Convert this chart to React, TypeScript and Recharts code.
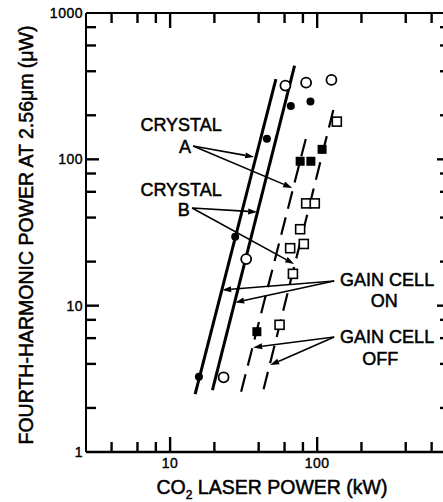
import {
  ComposedChart,
  XAxis,
  YAxis,
  Line,
  Scatter,
  ReferenceLine,
  ReferenceDot,
  Label,
} from "recharts";

const FONT = '"Liberation Sans", Arial, Helvetica, sans-serif';

// log axis ticks
const xTicks = [4, 6, 8, 10, 20, 40, 60, 80, 100, 200, 400, 600, 800];
const xLabeled = [10, 100];
const yTicks = [2, 4, 6, 8, 10, 20, 40, 60, 80, 100, 200, 400, 600, 800];
const yLabeled = [1, 10, 100, 1000];

// measured points: CO2 laser power (kW) -> fourth-harmonic power (uW)
const aOnX = [15.7, 27.7, 45.5, 66.2, 90];
const aOnY = [3.27, 29.6, 138, 231, 248];
const bOnX = [23.1, 32.9, 60.8, 84.1, 125];
const bOnY = [3.24, 20.8, 319, 334, 349];
const aOffX = [38.9, 76.6, 90.6, 108];
const aOffY = [6.64, 97, 97, 117];
const bOffX = [55.5, 68.4, 65.5, 81.1, 76.6, 84.2, 96.3, 136];
const bOffY = [7.4, 16.5, 24.7, 26.4, 33.3, 50, 50, 181];

// fitted lines (end points)
const fitAOnX = [14.8, 52.4];
const fitAOnY = [2.49, 353];
const fitBOnX = [19.4, 70.2];
const fitBOnY = [2.65, 437];
const fitAOffX = [30.4, 83.8];
const fitAOffY = [2.58, 139];
const fitBOffX = [43.2, 132.5];
const fitBOffY = [2.68, 244];

// annotations
const labelText = ["CRYSTAL", "A", "CRYSTAL", "B", "GAIN  CELL", "ON", "GAIN  CELL", "OFF"];
const labelX = [11.88, 12.65, 11.88, 12.36, 299, 285.6, 299, 268.3];
const labelY = [173.2, 121.6, 61.8, 45.1, 14.99, 10.77, 6.16, 4.36];

const arrowFromX = [14.34, 14.34, 14.11, 14.11, 130.5, 130.5, 130.5, 130.5];
const arrowFromY = [123.5, 123.5, 46.5, 46.5, 14.75, 14.75, 6.11, 6.11];
const arrowToX = [37.27, 67.6, 39.07, 69.7, 22.58, 27.69, 36.7, 47.9];
const arrowToY = [103.8, 63.8, 43.7, 19.28, 12.8, 10.52, 5.18, 3.93];

const pts = (xs: number[], ys: number[]) => xs.map((x, i) => ({ x, y: ys[i] }));

// axis labels only; tick marks are drawn by the reference lines below
const XLabelTick = (props: any) => {
  const { x, y, payload } = props;
  if (!xLabeled.includes(payload.value)) return <g />;
  return (
    <text
      x={x}
      y={y + 16}
      textAnchor="middle"
      fontSize={14}
      fontFamily={FONT}
      fill="#000"
      stroke="#000"
      strokeWidth={0.4}
      letterSpacing={0.5}
    >
      {payload.value}
    </text>
  );
};

const YLabelTick = (props: any) => {
  const { x, y, payload } = props;
  if (!yLabeled.includes(payload.value)) return <g />;
  return (
    <text
      x={x - 3}
      y={y + 5}
      textAnchor="end"
      fontSize={14}
      fontFamily={FONT}
      fill="#000"
      stroke="#000"
      strokeWidth={0.4}
      letterSpacing={0.5}
    >
      {payload.value}
    </text>
  );
};

// inward tick marks at both ends of a full-height / full-width reference line
const tickShape = (major: boolean, vertical: boolean) => (props: any) => {
  const { x1, y1, x2, y2 } = props;
  const len = major ? (vertical ? 15 : 13) : 10;
  if (vertical) {
    const top = Math.min(y1, y2);
    const bot = Math.max(y1, y2);
    return (
      <g>
        <line x1={x1} y1={bot} x2={x1} y2={bot - len} stroke="#000" strokeWidth={2.4} />
        <line x1={x1} y1={top} x2={x1} y2={top + len} stroke="#000" strokeWidth={2.4} />
      </g>
    );
  }
  const l = Math.min(x1, x2);
  const r = Math.max(x1, x2);
  return (
    <g>
      <line x1={l} y1={y1} x2={l + len} y2={y1} stroke="#000" strokeWidth={2.4} />
      <line x1={r} y1={y1} x2={r - len} y2={y1} stroke="#000" strokeWidth={2.4} />
    </g>
  );
};

const Arrow = (props: any) => {
  const { x1, y1, x2, y2 } = props;
  const a = Math.atan2(y2 - y1, x2 - x1);
  const L = 9;
  const W = 3;
  const bx = x2 - L * Math.cos(a);
  const by = y2 - L * Math.sin(a);
  const p1 = `${bx - W * Math.sin(a)},${by + W * Math.cos(a)}`;
  const p2 = `${bx + W * Math.sin(a)},${by - W * Math.cos(a)}`;
  return (
    <g>
      <line x1={x1} y1={y1} x2={bx} y2={by} stroke="#000" strokeWidth={1.6} />
      <polygon points={`${x2},${y2} ${p1} ${p2}`} fill="#000" />
    </g>
  );
};

const FilledCircle = (p: any) => <circle cx={p.cx} cy={p.cy} r={4} fill="#000" />;
const OpenCircle = (p: any) => (
  <circle cx={p.cx} cy={p.cy} r={5} fill="#fff" stroke="#000" strokeWidth={1.8} />
);
const FilledSquare = (p: any) => <rect x={p.cx - 4.5} y={p.cy - 4.5} width={9} height={9} fill="#000" />;
const OpenSquare = (p: any) => (
  <rect x={p.cx - 4.5} y={p.cy - 4.5} width={9} height={9} fill="#fff" stroke="#000" strokeWidth={1.6} />
);

export default function App() {
  return (
    <div
      style={{
        position: "absolute",
        left: 0,
        top: 0,
        width: 443,
        height: 502,
        overflow: "hidden",
        background: "#fff",
      }}
    >
      {/* axes are 1px thick so the plot box is 86..450 x 13..452; right edge is cropped like the scan */}
      <ComposedChart width={470} height={502} margin={{ top: 12, right: 19, bottom: 49, left: 85 }}>
        <XAxis
          xAxisId="b"
          dataKey="x"
          type="number"
          scale="log"
          domain={[2.68, 800]}
          allowDataOverflow
          ticks={xTicks}
          interval={0}
          height={1}
          tickSize={0}
          tickMargin={0}
          tickLine={false}
          axisLine={{ stroke: "#000", strokeWidth: 2.5 }}
          tick={(p: any) => <XLabelTick {...p} />}
        >
          <Label
            content={() => (
              <text
                x={272}
                y={494}
                textAnchor="middle"
                fontSize={19.5}
                fontFamily={FONT}
                fill="#000"
                stroke="#000"
                strokeWidth={0.5}
              >
                CO
                <tspan fontSize={12} dy={5}>
                  2
                </tspan>
                <tspan dy={-5}> LASER POWER (kW)</tspan>
              </text>
            )}
          />
        </XAxis>
        <XAxis
          xAxisId="t"
          orientation="top"
          dataKey="x"
          type="number"
          scale="log"
          domain={[2.68, 800]}
          allowDataOverflow
          height={1}
          tick={false}
          tickLine={false}
          axisLine={{ stroke: "#000", strokeWidth: 2 }}
        />
        <YAxis
          yAxisId="l"
          type="number"
          scale="log"
          domain={[1, 1000]}
          allowDataOverflow
          ticks={[1, 10, 100, 1000]}
          interval={0}
          width={1}
          tickSize={0}
          tickMargin={0}
          tickLine={false}
          axisLine={{ stroke: "#000", strokeWidth: 2 }}
          tick={(p: any) => <YLabelTick {...p} />}
        >
          <Label
            content={() => (
              <text
                x={33}
                y={235}
                transform="rotate(-90 33 235)"
                textAnchor="middle"
                fontSize={19.5}
                fontFamily={FONT}
                fill="#000"
                stroke="#000"
                strokeWidth={0.5}
              >
                FOURTH-HARMONIC POWER AT 2.56μm (μW)
              </text>
            )}
          />
        </YAxis>
        <YAxis
          yAxisId="r"
          orientation="right"
          type="number"
          scale="log"
          domain={[1, 1000]}
          allowDataOverflow
          width={1}
          tick={false}
          tickLine={false}
          axisLine={{ stroke: "#000", strokeWidth: 2 }}
        />

        {xTicks.map((v) => (
          <ReferenceLine
            key={"xt" + v}
            xAxisId="b"
            yAxisId="l"
            x={v}
            shape={tickShape(xLabeled.includes(v), true)}
          />
        ))}
        {yTicks.map((v) => (
          <ReferenceLine
            key={"yt" + v}
            xAxisId="b"
            yAxisId="l"
            y={v}
            shape={tickShape(yLabeled.includes(v), false)}
          />
        ))}

        <Line xAxisId="b" yAxisId="l" data={pts(fitAOnX, fitAOnY)} dataKey="y" stroke="#000" strokeWidth={3} dot={false} isAnimationActive={false} />
        <Line xAxisId="b" yAxisId="l" data={pts(fitBOnX, fitBOnY)} dataKey="y" stroke="#000" strokeWidth={3} dot={false} isAnimationActive={false} />
        <Line xAxisId="b" yAxisId="l" data={pts(fitAOffX, fitAOffY)} dataKey="y" stroke="#000" strokeWidth={2.2} strokeDasharray="18 9" dot={false} isAnimationActive={false} />
        <Line xAxisId="b" yAxisId="l" data={pts(fitBOffX, fitBOffY)} dataKey="y" stroke="#000" strokeWidth={2.2} strokeDasharray="18 9" dot={false} isAnimationActive={false} />

        <Scatter xAxisId="b" yAxisId="l" data={pts(aOnX, aOnY)} dataKey="y" shape={FilledCircle} isAnimationActive={false} />
        <Scatter xAxisId="b" yAxisId="l" data={pts(bOnX, bOnY)} dataKey="y" shape={OpenCircle} isAnimationActive={false} />
        <Scatter xAxisId="b" yAxisId="l" data={pts(aOffX, aOffY)} dataKey="y" shape={FilledSquare} isAnimationActive={false} />
        <Scatter xAxisId="b" yAxisId="l" data={pts(bOffX, bOffY)} dataKey="y" shape={OpenSquare} isAnimationActive={false} />

        {arrowFromX.map((fx, i) => (
          <ReferenceLine
            key={"a" + i}
            xAxisId="b"
            yAxisId="l"
            segment={[
              { x: fx, y: arrowFromY[i] },
              { x: arrowToX[i], y: arrowToY[i] },
            ]}
            shape={Arrow}
          />
        ))}
        {labelText.map((t, i) => (
          <ReferenceDot
            key={"t" + i}
            xAxisId="b"
            yAxisId="l"
            x={labelX[i]}
            y={labelY[i]}
            r={0}
            fill="none"
            stroke="none"
            label={{
              value: t,
              position: "center",
              fill: "#000",
              stroke: "#000",
              strokeWidth: 0.5,
              fontSize: 18,
              fontFamily: FONT,
              style: { whiteSpace: "pre" },
            }}
          />
        ))}
      </ComposedChart>
    </div>
  );
}
